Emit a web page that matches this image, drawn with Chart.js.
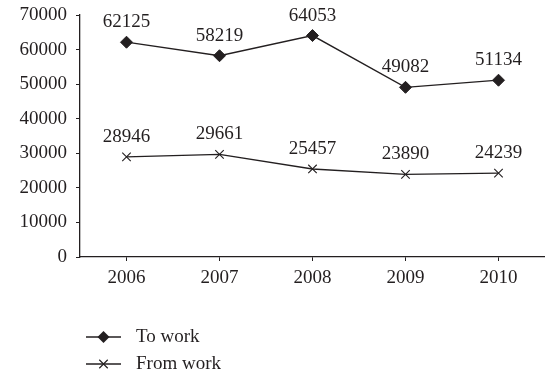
<!DOCTYPE html>
<html>
<head>
<meta charset="utf-8">
<script src="https://cdn.jsdelivr.net/npm/chart.js@4/dist/chart.umd.min.js"></script>
<style>
  html, body { margin: 0; padding: 0; background: #ffffff; }
  #wrap { width: 545px; height: 379px; position: relative; }
</style>
</head>
<body>
<div id="wrap"><canvas id="c" width="545" height="379"></canvas></div>
<script>
// Commuting counts per year
const years = ['2006', '2007', '2008', '2009', '2010'];
const toWork = [62125, 58219, 64053, 49082, 51134];
const fromWork = [28946, 29661, 25457, 23890, 24239];
const seriesNames = ['To work', 'From work'];

const INK = '#231f20';
const FONT = '"Liberation Serif", "DejaVu Serif", serif';
const SIZE = 19;

// Value labels above each point
const valueLabels = {
  id: 'valueLabels',
  afterDatasetsDraw(chart) {
    const ctx = chart.ctx;
    ctx.save();
    ctx.fillStyle = INK;
    ctx.font = SIZE + 'px ' + FONT;
    ctx.textAlign = 'center';
    ctx.textBaseline = 'alphabetic';
    chart.data.datasets.forEach((ds, i) => {
      const meta = chart.getDatasetMeta(i);
      meta.data.forEach((pt, j) => {
        ctx.fillText(String(ds.data[j]), pt.x, pt.y - 15);
      });
    });
    ctx.restore();
  }
};

// Stacked legend below the plot: line sample with marker, then name
const stackedLegend = {
  id: 'stackedLegend',
  afterDraw(chart) {
    const ctx = chart.ctx;
    const rows = [337, 364];
    ctx.save();
    chart.data.datasets.forEach((ds, i) => {
      const y = rows[i];
      const x0 = 86, x1 = 121, xm = (x0 + x1) / 2;
      ctx.strokeStyle = INK;
      ctx.fillStyle = INK;
      ctx.lineWidth = 1.3;
      ctx.beginPath();
      ctx.moveTo(x0, y);
      ctx.lineTo(x1, y);
      ctx.stroke();
      const r = 6;
      if (ds.pointStyle === 'rectRot') {
        ctx.beginPath();
        ctx.moveTo(xm, y - r);
        ctx.lineTo(xm + r, y);
        ctx.lineTo(xm, y + r);
        ctx.lineTo(xm - r, y);
        ctx.closePath();
        ctx.fill();
      } else {
        const d = r * Math.SQRT1_2;
        ctx.lineWidth = 1.1;
        ctx.beginPath();
        ctx.moveTo(xm - d, y - d);
        ctx.lineTo(xm + d, y + d);
        ctx.moveTo(xm + d, y - d);
        ctx.lineTo(xm - d, y + d);
        ctx.stroke();
      }
      ctx.font = SIZE + 'px ' + FONT;
      ctx.textAlign = 'left';
      ctx.textBaseline = 'middle';
      ctx.fillText(ds.label, 136, y);
    });
    ctx.restore();
  }
};

new Chart(document.getElementById('c'), {
  type: 'line',
  data: {
    labels: years,
    datasets: [
      {
        label: seriesNames[0],
        data: toWork,
        borderColor: INK,
        backgroundColor: INK,
        borderWidth: 1.3,
        pointStyle: 'rectRot',
        pointRadius: 6,
        pointBorderWidth: 1,
        pointBackgroundColor: INK,
        pointBorderColor: INK,
        tension: 0
      },
      {
        label: seriesNames[1],
        data: fromWork,
        borderColor: INK,
        backgroundColor: INK,
        borderWidth: 1.3,
        pointStyle: 'crossRot',
        pointRadius: 6,
        pointBorderWidth: 1.1,
        pointBorderColor: INK,
        tension: 0
      }
    ]
  },
  options: {
    responsive: false,
    animation: false,
    devicePixelRatio: 1,
    layout: { autoPadding: false, padding: { top: 15, right: 0, bottom: 89, left: 0 } },
    plugins: {
      legend: { display: false },
      tooltip: { enabled: false }
    },
    scales: {
      x: {
        offset: true,
        grid: { drawOnChartArea: false, drawTicks: true, tickLength: 4, color: INK, lineWidth: 1 },
        border: { display: true, color: INK, width: 1.3 },
        ticks: { color: INK, font: { family: FONT, size: SIZE }, padding: 6, maxRotation: 0 },
        afterFit(scale) {
          scale.height = 33;
          scale.paddingLeft = 0;
          scale.paddingRight = 0;
        }
      },
      y: {
        min: 0,
        max: 70000,
        grid: { drawOnChartArea: false, drawTicks: true, tickLength: 4, color: INK, lineWidth: 1 },
        border: { display: true, color: INK, width: 1.3 },
        ticks: {
          stepSize: 10000,
          color: INK,
          font: { family: FONT, size: SIZE },
          padding: 9,
          callback: (v) => String(v)
        },
        afterFit(scale) {
          scale.width = 80;
          scale.paddingTop = 0;
          scale.paddingBottom = 0;
        }
      }
    }
  },
  plugins: [valueLabels, stackedLegend]
});
</script>
</body>
</html>
